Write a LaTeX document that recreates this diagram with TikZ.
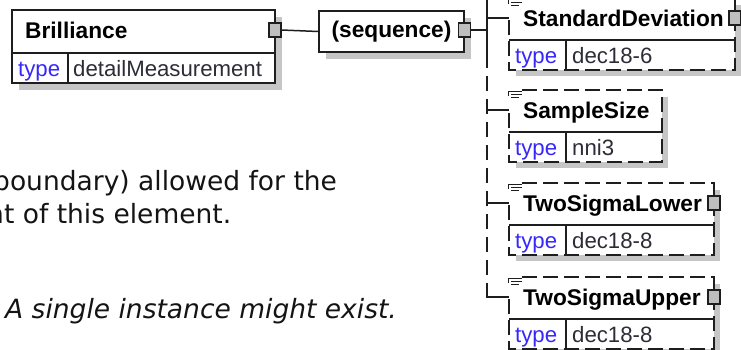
\documentclass[tikz,border=0pt]{standalone}
\usepackage{fontspec}
\setmainfont{Liberation Sans}
\newfontfamily\verd{DejaVu Sans}
\definecolor{typeblue}{RGB}{55,40,250}
\definecolor{valgray}{RGB}{45,45,55}
\definecolor{shadowgray}{RGB}{198,198,198}
\definecolor{portgray}{RGB}{190,190,190}
\definecolor{edgec}{RGB}{30,30,30}
\tikzset{
  edgeline/.style={draw=edgec,line width=1.5pt},
  optedge/.style={draw=edgec,line width=1.5pt,dash pattern=on 15pt off 6pt},
  conn/.style={draw=edgec,line width=1.5pt},
  optconn/.style={draw=edgec,line width=1.5pt,dash pattern=on 15pt off 8pt},
  icon/.style={draw=edgec,line width=1pt},
  hdr/.style={inner sep=0pt,anchor=base west,font=\fontsize{22.7pt}{26pt}\selectfont\bfseries,text=black},
  typelbl/.style={inner sep=0pt,anchor=base west,font=\fontsize{22.2pt}{26pt}\selectfont,text=typeblue},
  typeval/.style={inner sep=0pt,anchor=base west,font=\fontsize{22.2pt}{26pt}\selectfont,text=valgray},
  port/.style={draw=edgec,fill=portgray,line width=1.1pt,minimum width=12pt,minimum height=14pt,inner sep=0pt},
  body/.style={inner sep=0pt,anchor=base west,font=\verd\fontsize{26.5pt}{32pt}\selectfont,text=black!92},
}
% #1 id, #2 top, #3 right, #4 label, #5 type value, #6 port (1/0)
\newcommand\childel[6]{%
  \fill[shadowgray] (516,{#2+7}) rectangle ({#3+6},{#2+78});
  \fill[white] (509,#2) rectangle (#3,{#2+72});
  \draw[optedge] (522,#2) -- (#3,#2) -- (#3,{#2+72}) -- (509,{#2+72}) -- (509,{#2+20});
  \draw[edgeline] (509,{#2+42}) -- (#3,{#2+42});
  \draw[edgeline] (566,{#2+42}) -- (566,{#2+72});
  \draw[icon] (508,{#2+1}) -- (522,{#2+1});
  \draw[icon] (508,{#2+1}) -- (508,{#2+6});
  \draw[icon] (511,{#2+4}) -- (522,{#2+4});
  \draw[icon] (511,{#2+7}) -- (519,{#2+7});
  \node[hdr] (#1) at (523,{#2+28.5}) {#4};
  \node[typelbl] (#1t) at (515,{#2+65}) {type};
  \node[typeval] (#1v) at (572,{#2+65}) {#5};
  \coordinate (#1in) at (509,{#2+20});
  \ifnum#6=1 \node[port] (#1p) at (#3,{#2+20}) {};\fi
}
\begin{document}
\begin{tikzpicture}[x=1pt,y=-1pt]
\useasboundingbox (0,0) rectangle (741,349);
% Brilliance
\fill[shadowgray] (19,17) rectangle (282,90);
\fill[white] (12,10) rectangle (275,83);
\draw[edgeline] (12,10) rectangle (275,83);
\draw[edgeline] (12,53) -- (275,53);
\draw[edgeline] (68,53) -- (68,83);
\node[hdr] (bril) at (25,38) {Brilliance};
\node[typelbl] (brilt) at (18,76) {type};
\node[typeval] (brilv) at (73,76) {detailMeasurement};
\node[port] (brilp) at (275,30) {};
% sequence
\fill[shadowgray] (326,18) rectangle (471,59);
\node[draw=edgec,line width=1.5pt,fill=white,minimum width=145pt,minimum height=41pt,inner sep=0pt,
      font=\fontsize{22.7pt}{26pt}\selectfont\bfseries] (seq) at (391.5,31.5) {(sequence)};
\node[port] (seqp) at (464.5,30) {};
\draw[conn] (brilp.east) -- (seq.west);
% bus
\coordinate (b0) at (487,-5);
\coordinate (b1) at (487,30);
\coordinate (b2) at (487,53);
\coordinate (b3) at (487,286);
\coordinate (b4) at (487,297);
\draw[conn] (seqp.east) -- (b1);
\draw[conn] (b0) -- (b2);
\draw[optconn] (b2) -- (b3);
% children
\childel{sd}{-2}{735}{StandardDeviation}{dec18-6}{1}
\childel{ss}{90}{662}{SampleSize}{nni3}{0}
\childel{tsl}{183}{714}{TwoSigmaLower}{dec18-8}{1}
\childel{tsu}{277}{714}{TwoSigmaUpper}{dec18-8}{1}
\coordinate (bsd) at (487,18);
\coordinate (bss) at (487,110);
\coordinate (btsl) at (487,203);
\draw[conn] (bsd) -- (sdin);
\draw[conn] (bss) -- (ssin);
\draw[conn] (btsl) -- (tslin);
\draw[conn] (b3) -- (b4) -- (tsuin);
% text
\node[body] (t1) at (-7,190) {boundary) allowed for the};
\node[body] (t2) at (-13,223) {nt of this element.};
\node[body,font=\verd\itshape\fontsize{26.5pt}{32pt}\selectfont] (t3) at (5,318) {A single instance might exist.};
\end{tikzpicture}
\end{document}
